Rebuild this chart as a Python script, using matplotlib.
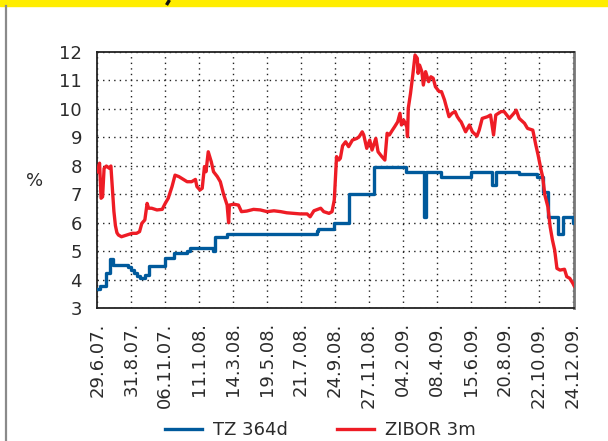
import numpy as np
import matplotlib
matplotlib.use("Agg")
import matplotlib.pyplot as plt
from matplotlib.lines import Line2D
from matplotlib.patches import Rectangle

# --- DATA (x = trading-day index, 45 days between labels) ---
tick_labels = ["29.6.07.", "31.8.07.", "06.11.07.", "11.1.08.", "14.3.08.",
               "19.5.08.", "21.7.08.", "24.9.08.", "27.11.08.", "04.2.09.",
               "08.4.09.", "15.6.09.", "20.8.09.", "22.10.09.", "24.12.09."]
tick_step = 45

tz_x = [0, 3, 12, 17, 21, 41, 45, 49, 53, 57, 63, 68, 90, 101, 119, 123, 153,
        156, 172, 260, 291, 293, 313, 333, 366, 409, 433, 436, 456, 495, 523,
        528, 559, 582, 591, 597, 610, 617, 630, 632]
tz_y = [3.67, 3.78, 4.25, 4.72, 4.52, 4.45, 4.35, 4.25, 4.15, 4.06, 4.17, 4.48,
        4.75, 4.93, 5.02, 5.10, 5.02, 5.49, 5.60, 5.62, 5.72, 5.77, 6.00, 7.01,
        7.97, 7.79, 6.19, 7.79, 7.62, 7.79, 7.32, 7.79, 7.70, 7.62, 7.09, 6.21,
        5.60, 6.21, 5.98, 5.98]

zibor_x = [0, 3, 5, 7, 9, 12, 16, 18, 20, 22, 24, 26, 28, 32, 39, 46, 52, 56,
           59, 63, 66, 68, 72, 79, 86, 90, 94, 99, 103, 108, 114, 119, 125, 130,
           132, 136, 139, 142, 144, 147, 151, 154, 159, 163, 167, 172, 174, 175,
           181, 187, 191, 198, 207, 216, 225, 234, 243, 251, 260, 269, 278, 282,
           287, 296, 300, 307, 311, 314, 317, 320, 322, 325, 329, 333, 338, 344,
           347, 351, 353, 357, 361, 364, 369, 372, 377, 381, 384, 387, 391, 394,
           398, 401, 403, 406, 410, 411, 412, 415, 418, 421, 424, 425, 427, 430,
           432, 435, 439, 442, 445, 448, 453, 456, 460, 463, 466, 470, 474, 477,
           480, 482, 488, 493, 497, 503, 506, 510, 517, 521, 525, 528, 535, 539,
           546, 552, 555, 559, 566, 570, 577, 581, 584, 588, 590, 593, 597, 600,
           603, 606, 609, 613, 619, 622, 626, 630, 632]
zibor_y = [7.79, 8.09, 6.86, 6.91, 7.91, 7.99, 7.91, 7.99, 7.20, 6.40, 5.90,
           5.65, 5.57, 5.51, 5.57, 5.63, 5.63, 5.69, 5.98, 6.10, 6.68, 6.51,
           6.51, 6.45, 6.47, 6.68, 6.86, 7.27, 7.67, 7.62, 7.52, 7.44, 7.44,
           7.52, 7.27, 7.15, 7.21, 7.97, 7.79, 8.49, 8.14, 7.79, 7.62, 7.44,
           7.03, 6.62, 6.00, 6.62, 6.65, 6.62, 6.39, 6.41, 6.47, 6.45, 6.39,
           6.42, 6.39, 6.35, 6.33, 6.31, 6.31, 6.21, 6.42, 6.51, 6.39, 6.33,
           6.39, 6.80, 8.32, 8.20, 8.26, 8.70, 8.84, 8.67, 8.90, 8.96, 9.02,
           9.19, 9.08, 8.61, 8.90, 8.55, 8.96, 8.49, 8.32, 8.20, 9.14, 9.08,
           9.25, 9.37, 9.54, 9.84, 9.43, 9.60, 9.37, 9.02, 10.01, 10.54, 11.18,
           11.88, 11.77, 11.24, 11.53, 11.30, 10.83, 11.30, 10.95, 11.12, 11.07,
           10.77, 10.60, 10.60, 10.31, 10.01, 9.72, 9.84, 9.90, 9.72, 9.60,
           9.54, 9.19, 9.43, 9.19, 9.04, 9.25, 9.66, 9.72, 9.78, 9.08, 9.78,
           9.90, 9.90, 9.66, 9.84, 9.95, 9.66, 9.49, 9.31, 9.25, 8.73, 8.38,
           7.85, 7.62, 6.97, 6.56, 5.86, 5.40, 5.04, 4.40, 4.34, 4.37, 4.11,
           4.05, 3.88, 3.78]

BLUE = "#005a9c"
RED = "#ee1c25"
TXT = "#2b2b2b"

plt.rcParams["font.family"] = ["DejaVu Sans"]

fig = plt.figure(figsize=(6.08, 4.41), dpi=100)
fig.patch.set_facecolor("white")

# yellow strip at top, with the tail of a cut-off title glyph
fig.patches.append(Rectangle((0, 1 - 6 / 441), 1, 6 / 441, transform=fig.transFigure,
                             color="#ffed00", zorder=0))
fig.lines.append(Line2D([169.5 / 608, 166.5 / 608], [1, 1 - 5 / 441],
                        transform=fig.transFigure, color="#111111", lw=2.4,
                        solid_capstyle="butt"))
# gray frame line on the left
fig.lines.append(Line2D([6 / 608, 6 / 608], [0, 1 - 6 / 441], transform=fig.transFigure,
                        color="#8a8a8a", lw=1.6))

ax = fig.add_axes([97.3 / 608, 1 - 308.3 / 441, 477 / 608, 256.6 / 441])

ax.step(tz_x, tz_y, where="post", color=BLUE, lw=2.4, label="TZ 364d", zorder=3)
ax.plot(zibor_x, zibor_y, color=RED, lw=2.4, label="ZIBOR 3m", zorder=4)

ax.set_xlim(0, 632)
ax.set_ylim(3, 12)
ax.set_yticks(range(3, 13))
ax.set_xticks([i * tick_step for i in range(len(tick_labels))])
ax.set_xticklabels(tick_labels, rotation=90)
ax.tick_params(axis="both", length=0, labelsize=13, labelcolor=TXT)
ax.tick_params(axis="y", pad=11)
ax.tick_params(axis="x", pad=10)

ax.grid(True, color="#222222", lw=1.0, linestyle=(0, (1, 3)))
ax.set_axisbelow(True)
for side in ["left", "bottom", "top"]:
    ax.spines[side].set_color("#222222")
    ax.spines[side].set_linewidth(1.3)
ax.spines["right"].set_color("#777777")
ax.spines["right"].set_linewidth(2.0)

fig.text(35 / 608, 1 - 181 / 441, "%", fontsize=13, color=TXT, ha="center", va="center")

fig.legend(loc="center", bbox_to_anchor=(0.527, 1 - 430 / 441), ncol=2, frameon=False,
           fontsize=13, handlelength=2.05, handletextpad=0.6, columnspacing=2.7,
           labelcolor=TXT)

fig.savefig("out.png", dpi=100)
